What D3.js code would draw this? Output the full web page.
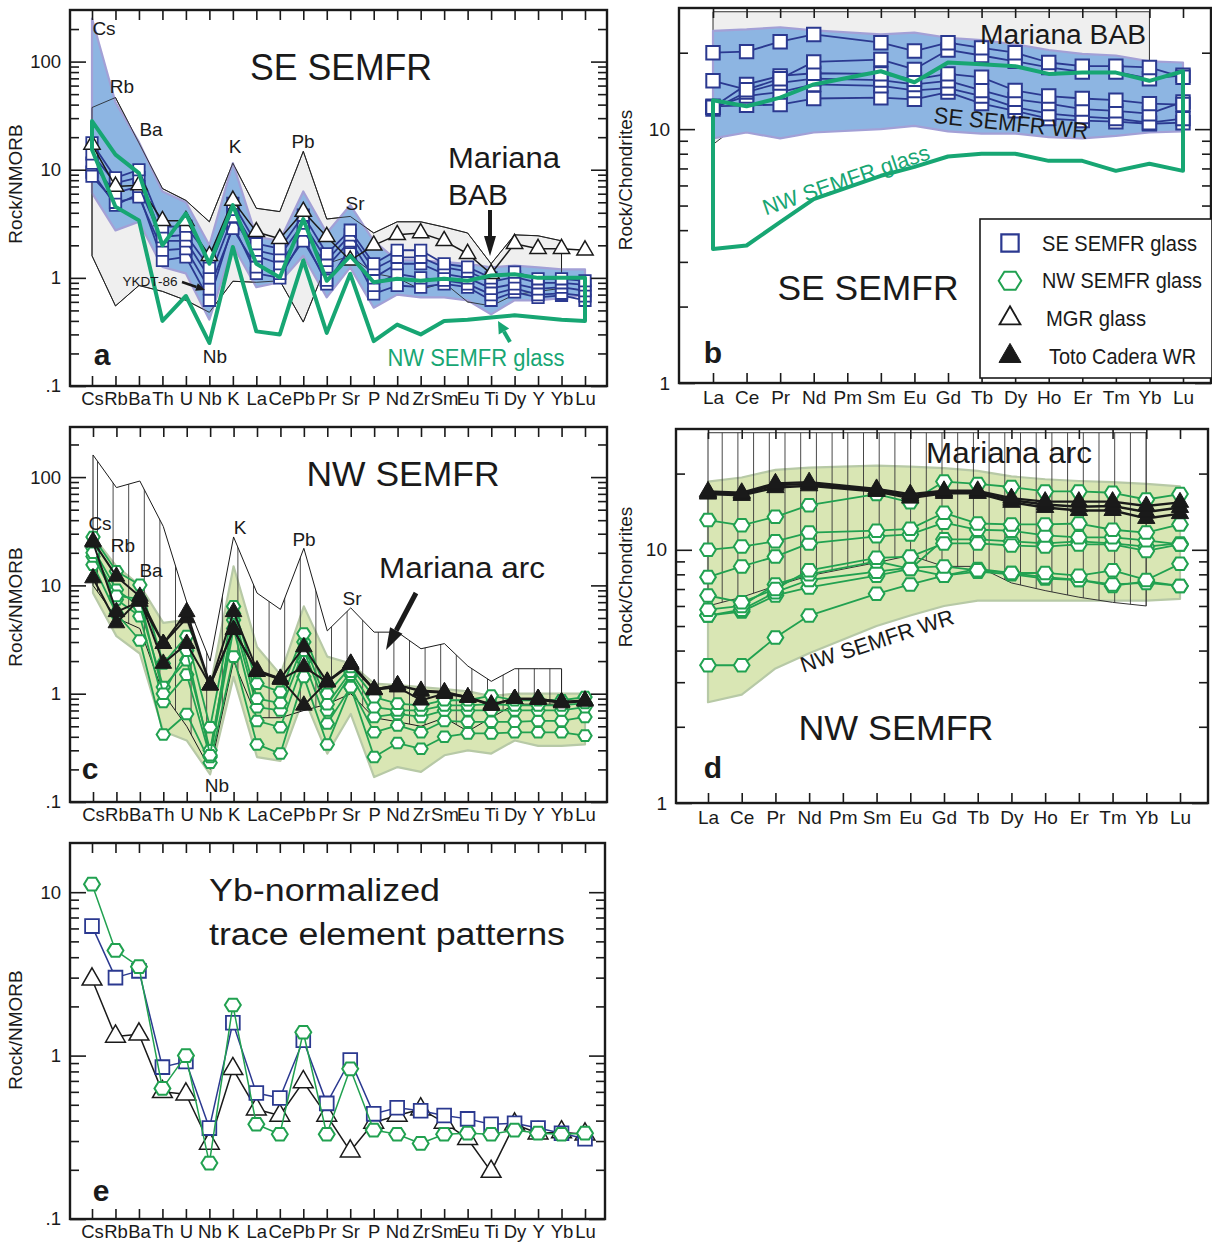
<!DOCTYPE html>
<html><head><meta charset="utf-8">
<script src="https://cdn.jsdelivr.net/npm/d3@7"></script>
<style>
body{margin:0;background:#fff}
svg{display:block}
text{font-family:"Liberation Sans",Arial,Helvetica,sans-serif;fill:#1a1a1a}
</style>
</head><body>
<svg id="chart" width="1212" height="1248"></svg>
<script>
// ---------------- categories & tick labels ----------------
const traceEls = ["Cs","Rb","Ba","Th","U","Nb","K","La","Ce","Pb","Pr","Sr","P","Nd","Zr","Sm","Eu","Ti","Dy","Y","Yb","Lu"];
const reeEls = ["La","Ce","Pr","Nd","Pm","Sm","Eu","Gd","Tb","Dy","Ho","Er","Tm","Yb","Lu"];
const nmorbMajor = [0.1, 1, 10, 100];
const nmorbMajorText = [".1", "1", "10", "100"];
const chonMajor = [1, 10];
const chonMajorText = ["1", "10"];
const yMajorE = [0.1, 1, 10];
const yMajorTextE = [".1", "1", "10"];

// ---------------- panel a : SE SEMFR (NMORB) ----------------
const aBabUpper = [37.6,46.5,17.7,6.7,5.2,3.3,11.5,4.4,4.1,14.8,3.5,3.7,2.6,3.3,3.3,2.95,2.6,1.35,2.5,2.45,2.2,null];
const aBabLower = [1.6,0.55,0.85,0.75,0.62,0.48,0.93,0.91,0.94,0.39,1.35,1.6,1.1,1.0,0.78,0.9,0.6,0.55,0.7,0.75,0.8,null];
const aWrUpper = [250,42,18,6.3,5.0,2.0,11.5,2.4,2.2,6.3,2.6,4.7,2.2,1.45,1.45,1.4,1.35,1.25,1.3,1.25,1.2,1.2];
const aWrLower = [6.1,2.75,3.3,1.26,1.1,0.41,2.0,0.82,0.91,1.6,0.66,1.25,0.53,0.7,0.66,0.66,0.62,0.46,0.62,0.62,0.65,0.7];
const aSe1 = [17.7,8.4,10,2.96,3.0,1.56,4.9,2.07,1.86,3.8,1.67,2.76,1.35,1.8,1.8,1.35,1.26,1.0,1.13,0.98,0.98,0.94];
const aSe2 = [14,7.5,8.5,2.4,2.5,1.25,4.3,1.8,1.6,3.2,1.45,2.5,1.2,1.55,1.55,1.25,1.15,0.92,1.02,0.9,0.9,0.86];
const aSe3 = [11.5,6.1,7,2.2,2.2,1.0,3.7,1.6,1.35,2.76,1.26,2.2,1.0,1.35,1.35,1.09,1.0,0.8,0.88,0.79,0.82,0.76];
const aSe4 = [8.7,5.0,5.6,1.8,1.86,0.79,2.86,1.26,1.1,2.2,0.95,1.67,0.85,1.09,1.0,0.95,0.88,0.7,0.8,0.7,0.72,0.68];
const aSe5 = [9.5,4.7,6,1.45,1.56,0.62,3.1,1.1,1.0,2.4,0.88,1.9,0.71,0.85,0.82,0.88,0.82,0.62,0.74,0.66,0.69,0.62];
const aMgr = [17.1,7.0,7.2,3.37,3.37,1.6,5.2,2.66,2.3,4.1,2.4,1.45,2.0,2.5,2.6,2.2,1.67,1.09,2.07,1.86,1.86,1.8];
const aNwUpper = [28.2,13.8,9.3,2.0,3.95,1.35,4.7,1.35,1.01,3.5,0.94,1.6,0.91,0.98,0.94,0.98,0.94,1.05,1.08,1.0,1.0,1.0];
const aNwLower = [15.3,4.55,3.4,0.4,0.68,0.25,1.93,0.32,0.3,1.45,0.31,1.09,0.26,0.37,0.3,0.4,0.41,0.43,0.45,0.43,0.41,0.4];

// ---------------- panel b : SE SEMFR (chondrite) ----------------
const bBabUpper = [29,29,29,29,null,29,29,29,29,29,29,29,29,29,null];
const bBabLower = [8.7,11.0,12.2,12.9,null,13.1,13.2,12.8,12.4,12.0,11.6,11.3,11.0,10.8,null];
const bWrUpper = [24.4,24.7,25.2,24.5,null,23.6,24.0,22.9,22.4,21.6,20.5,19.8,19.5,18.5,18.3];
const bWrLower = [9.2,9.7,9.2,9.7,null,10.0,10.3,9.8,9.6,9.6,9.3,9.2,9.4,9.7,9.8];
const bSe1 = [20.0,20.2,22.1,23.6,null,21.9,20.3,21.9,20.9,20.0,18.3,17.7,17.7,17.5,16.0];
const bSe2 = [15.5,14.3,15.8,18.4,null,18.8,17.2,20.5,19.5,18.5,17.5,16.8,16.8,15.8,16.3];
const bSe3 = [12.2,15.0,16.2,16.6,null,16.5,15.7,16.5,16.0,14.2,13.5,13.2,13.0,12.6,12.5];
const bSe4 = [12.0,14.0,15.2,15.8,null,15.6,15.0,15.5,14.2,13.1,12.6,12.0,11.8,11.5,12.8];
const bSe5 = [12.2,13.5,14.0,15.0,null,14.8,14.2,14.5,13.5,12.2,11.5,11.2,11.0,10.6,11.0];
const bSe6 = [12.3,12.4,12.5,13.2,null,13.3,13.1,14.0,12.6,11.8,11.0,10.8,10.7,10.5,10.6];
const bNwUpper = [13.0,12.3,13.3,15.0,null,16.9,15.3,18.3,18.0,17.7,16.5,16.7,16.7,15.5,16.9];
const bNwLower = [3.37,3.48,4.3,5.3,null,6.55,7.1,7.8,8.0,8.0,7.5,7.5,6.85,7.3,6.85];

// ---------------- panel c : NW SEMFR (NMORB) ----------------
const cArcUpper = [160,80,92,35,7,2,28,8.5,6,22,3.8,6.2,3.7,3.7,2.6,2.9,1.8,1.3,1.7,1.7,1.7,null];
const cArcLower = [10,5,4,1.0,0.5,0.2,2.0,0.6,0.6,0.7,0.8,1.0,0.6,0.55,0.5,0.6,0.45,0.6,0.8,0.8,0.8,null];
const cWrUpper = [28.5,15,10,4.5,4.8,1.15,15,2.7,1.5,6.4,2.2,1.9,1.24,1.2,1.15,1.1,1.05,0.95,1.0,1.0,1.0,1.0];
const cWrLower = [8.5,3.4,2.35,0.45,0.37,0.18,1.43,0.26,0.24,0.93,0.28,0.65,0.17,0.21,0.19,0.27,0.3,0.28,0.37,0.33,0.33,0.34];
const cNw1 = [28,13.5,10.1,1.9,3.4,0.49,6.4,1.24,1.04,3.6,1.0,1.77,0.93,0.81,0.78,0.87,0.87,0.96,0.87,0.87,0.87,0.93];
const cNw2 = [22,9.1,6.4,1.15,2.04,0.3,4.8,0.75,0.7,2.5,0.7,1.5,0.61,0.65,0.61,0.7,0.7,0.7,0.7,0.7,0.7,0.75];
const cNw3 = [18.5,7.4,5.2,0.84,1.5,0.26,4.0,0.56,0.49,2.0,0.53,1.15,0.44,0.51,0.44,0.56,0.55,0.55,0.55,0.56,0.56,0.61];
const cNw4 = [15.5,5.5,3.1,0.42,0.65,0.23,2.2,0.34,0.28,1.43,0.34,1.15,0.26,0.35,0.31,0.4,0.43,0.43,0.44,0.44,0.44,0.41];
const cNw5 = [20,8,7.5,1.0,2.5,0.27,5.5,0.9,0.82,3.0,0.8,1.6,0.75,0.7,0.7,0.78,0.78,0.8,0.78,0.78,0.78,0.82];
const cToto1 = [25.6,12.1,7.9,2.9,5.7,1.2,5.7,1.65,1.38,2.7,1.28,1.9,1.1,1.2,1.07,1.04,0.93,0.78,0.9,0.9,0.84,0.87];
const cToto2 = [25,5.7,7.1,2.9,5.0,1.2,3.9,1.6,1.35,1.77,1.28,1.85,1.08,1.15,0.87,1.0,0.92,0.78,0.9,0.88,0.82,0.85];
const cToto3 = [11.7,4.5,7.5,1.9,2.9,1.2,3.9,1.6,1.38,0.78,1.3,1.9,1.1,1.2,1.05,1.02,0.93,0.8,0.9,0.9,0.84,0.86];

// ---------------- panel d : NW SEMFR (chondrite) ----------------
const dArcUpper = [29,29,29,29,null,29,29,29,29,29,29,29,29,29,null];
const dArcLower = [6.0,6.5,7.2,7.9,null,8.9,9.5,8.6,8.6,7.4,6.9,6.5,6.2,6.0,null];
const dWrUpper = [18.6,19.3,20.7,21.1,null,21.5,21.3,21.0,20.5,19.5,19.0,18.7,18.5,18.2,17.8];
const dWrLower = [2.5,2.68,3.4,3.9,null,5.0,5.5,6.0,6.3,6.3,6.3,6.3,6.3,6.3,6.4];
const dNw1 = [13.1,12.5,13.5,15.0,null,16.6,15.4,18.6,18.2,17.7,17.0,17.0,16.8,15.8,16.6];
const dNw2 = [10.0,10.3,10.8,11.7,null,11.9,12.1,14.0,12.7,12.6,12.6,12.7,12.0,11.7,12.6];
const dNw3 = [7.8,8.6,9.4,10.6,null,11.3,11.5,12.8,12.0,11.9,11.4,11.2,11.2,10.9,10.5];
const dNw4 = [6.6,6.2,7.0,8.3,null,9.3,9.4,10.6,10.6,10.4,10.3,10.5,10.5,9.9,10.5];
const dNw5 = [5.8,6.0,7.3,8.0,null,9.0,8.4,11.0,11.0,10.8,10.6,10.8,10.6,10.3,10.6];
const dNw6 = [5.5,5.8,6.8,7.6,null,8.2,8.5,8.6,8.3,8.1,8.1,7.9,8.3,7.6,8.8];
const dNw7 = [5.5,5.7,6.6,7.1,null,7.9,8.4,7.9,8.4,8.1,7.8,7.6,7.3,7.4,7.2];
const dNw8 = [3.5,3.5,4.5,5.5,null,6.7,7.3,7.9,8.2,8.0,7.7,7.6,7.2,7.5,7.2];
const dToto1 = [17.0,16.8,18.3,18.5,null,17.4,16.6,17.1,17.1,16.0,15.5,15.5,15.5,14.9,15.4];
const dToto2 = [16.8,16.6,18.0,18.2,null,17.2,16.3,16.9,16.9,15.7,15.1,14.8,14.9,14.1,14.7];
const dToto3 = [16.6,16.4,17.6,17.9,null,17.0,16.0,16.7,16.7,15.4,14.7,14.3,14.3,13.3,13.9];

// ---------------- panel e : Yb-normalized ----------------
const eNw = [11.2,4.4,3.5,0.63,1.0,0.22,2.04,0.38,0.33,1.39,0.33,0.83,0.35,0.33,0.29,0.33,0.335,0.33,0.35,0.335,0.33,0.335];
const eSe = [6.2,3.0,3.3,0.85,0.92,0.36,1.59,0.59,0.55,1.24,0.51,0.94,0.44,0.48,0.46,0.43,0.41,0.38,0.385,0.36,0.335,0.31];
const eMgr = [2.93,1.31,1.35,0.60,0.58,0.29,0.83,0.47,0.43,0.69,0.43,0.26,0.39,0.43,0.47,0.39,0.31,0.195,0.38,0.335,0.34,0.33];

// ---------------- colours ----------------
const C = {
  blue:"#2b3990", blueField:"#8db5e2", blueEdge:"#a3a0d6",
  grey:"#efefef", ink:"#1a1a1a",
  greenThick:"#17a673", green:"#21a150", greenField:"#d9e6b4", greenEdge:"#b7c9a6"
};

const svg = d3.select("#chart");
const defs = svg.append("defs");
let clipN = 0;

// hexagon symbol (flat top, points left/right)
const symbolHex = { draw(ctx, size){ const r=Math.sqrt(2*size/(3*Math.sqrt(3)));
  for(let k=0;k<6;k++){const a=k*Math.PI/3; const px=r*Math.cos(a), py=r*Math.sin(a)*0.92; k?ctx.lineTo(px,py):ctx.moveTo(px,py);} ctx.closePath(); } };

function makePanel(cfg){
  const x = d3.scalePoint().domain(cfg.cats).range([cfg.xFirst, cfg.xLast]);
  const y = d3.scaleLog().domain(cfg.yDomain).range([cfg.bottom, cfg.top]);
  const id = "clip" + (clipN++);
  defs.append("clipPath").attr("id", id).append("rect")
    .attr("x", cfg.left).attr("y", cfg.top).attr("width", cfg.right-cfg.left).attr("height", cfg.bottom-cfg.top);
  const g = svg.append("g");
  const plot = g.append("g").attr("clip-path", `url(#${id})`);
  return {x, y, g, plot, cfg};
}
function pts(p, vals){ return p.cfg.cats.map((c,i)=>[c, vals[i]]).filter(d=>d[1]!=null); }
const lineOf = p => d3.line().x(d=>p.x(d[0])).y(d=>p.y(d[1]));

function field(p, upper, lower, fill, stroke, sw){
  const poly = pts(p, upper).concat(pts(p, lower).reverse());
  return p.plot.append("path").attr("d", lineOf(p)(poly)+"Z")
    .attr("fill", fill).attr("stroke", stroke).attr("stroke-width", sw).attr("stroke-linejoin","round");
}
function series(p, vals, o){
  const ps = pts(p, vals);
  p.plot.append("path").attr("d", lineOf(p)(ps)).attr("fill","none")
    .attr("stroke", o.line).attr("stroke-width", o.lw).attr("stroke-linejoin","round");
  if (o.symbol) {
    p.plot.append("g").selectAll("path").data(ps).join("path")
      .attr("transform", d=>`translate(${p.x(d[0])},${p.y(d[1])})`)
      .attr("d", d3.symbol().type(o.symbol).size(o.size))
      .attr("fill", o.fill).attr("stroke", o.stroke).attr("stroke-width", o.sw);
  }
}
function finish(p, yMajor, yMajorText){
  const cfg = p.cfg, g = p.g;
  const st = sel => { sel.select(".domain").remove();
    sel.selectAll("line").attr("stroke", C.ink).attr("stroke-width", 1.6);
    sel.selectAll("text").style("font-size", cfg.tickFont+"px").attr("fill", C.ink); };
  g.append("g").attr("transform",`translate(0,${cfg.bottom})`)
    .call(d3.axisBottom(p.x).tickSizeInner(-10).tickSizeOuter(0).tickPadding(cfg.xPad)).call(st);
  g.append("g").attr("transform",`translate(0,${cfg.top})`)
    .call(d3.axisTop(p.x).tickSizeInner(-10).tickSizeOuter(0).tickFormat("")).call(st);
  const minor = p.y.ticks().filter(v => Math.abs(Math.log10(v)-Math.round(Math.log10(v)))>1e-6 && v>cfg.yDomain[0] && v<cfg.yDomain[1]);
  g.append("g").attr("transform",`translate(${cfg.left},0)`)
    .call(d3.axisLeft(p.y).tickValues(yMajor).tickFormat((d,i)=>yMajorText[i]).tickSizeInner(-16).tickSizeOuter(0).tickPadding(9)).call(st);
  g.append("g").attr("transform",`translate(${cfg.left},0)`)
    .call(d3.axisLeft(p.y).tickValues(minor).tickFormat("").tickSizeInner(-9).tickSizeOuter(0)).call(st);
  g.append("g").attr("transform",`translate(${cfg.right},0)`)
    .call(d3.axisRight(p.y).tickValues(yMajor).tickFormat("").tickSizeInner(-16).tickSizeOuter(0)).call(st);
  g.append("g").attr("transform",`translate(${cfg.right},0)`)
    .call(d3.axisRight(p.y).tickValues(minor).tickFormat("").tickSizeInner(-9).tickSizeOuter(0)).call(st);
  g.append("rect").attr("x",cfg.left).attr("y",cfg.top).attr("width",cfg.right-cfg.left).attr("height",cfg.bottom-cfg.top)
    .attr("fill","none").attr("stroke",C.ink).attr("stroke-width",2.4);
  g.append("text").attr("transform",`translate(${cfg.yTitleX},${cfg.yTitleY}) rotate(-90)`)
    .attr("text-anchor","middle").style("font-size","19px").text(cfg.yTitle);
}
function label(txt, x, y, size, o={}){
  const t = svg.append("text").attr("x",x).attr("y",y).text(txt).style("font-size", size+"px")
    .attr("text-anchor", o.anchor||"middle").attr("dominant-baseline","central");
  if (o.fill) t.attr("fill", o.fill).style("fill", o.fill);
  if (o.bold) t.style("font-weight","bold");
  if (o.len) t.attr("textLength", o.len).attr("lengthAdjust","spacingAndGlyphs");
  if (o.rot) t.attr("transform",`rotate(${o.rot},${x},${y})`);
  return t;
}
function arrow(x1,y1,x2,y2,w,hl,hw,color){
  const dx=x2-x1, dy=y2-y1, L=Math.hypot(dx,dy), ux=dx/L, uy=dy/L, nx=-uy, ny=ux;
  const bx=x2-ux*hl, by=y2-uy*hl;
  svg.append("line").attr("x1",x1).attr("y1",y1).attr("x2",bx).attr("y2",by).attr("stroke",color).attr("stroke-width",w);
  svg.append("path").attr("d",`M${x2},${y2}L${bx+nx*hw},${by+ny*hw}L${bx-nx*hw},${by-ny*hw}Z`).attr("fill",color);
}
function hatch(id, x0, step, color){
  const pt = defs.append("pattern").attr("id",id).attr("patternUnits","userSpaceOnUse")
    .attr("x",x0).attr("y",0).attr("width",step).attr("height",20);
  pt.append("line").attr("x1",0.5).attr("x2",0.5).attr("y1",0).attr("y2",20).attr("stroke",color).attr("stroke-width",0.9);
}
hatch("hatchC", 97, 15.6, "#333");
hatch("hatchD", 706, 15.7, "#333");

const sq = d3.symbolSquare, tri = d3.symbolTriangle;

// ======== panel a ========
const pa = makePanel({cats:traceEls,left:70,right:607,top:10,bottom:386,xFirst:92,xLast:585,yDomain:[0.1,300],
  tickFont:18.5,xPad:6,yTitle:"Rock/NMORB",yTitleX:22,yTitleY:184});
field(pa, aBabUpper, aBabLower, C.grey, C.ink, 0.9);
field(pa, aWrUpper, aWrLower, C.blueField, C.blueEdge, 2.2);
field(pa, aBabUpper, aBabLower, "none", C.ink, 0.8);
[aSe5,aSe4,aSe3,aSe2,aSe1].forEach(s=>series(pa,s,{line:C.blue,lw:1.8,symbol:sq,size:130,fill:"#fff",stroke:C.blue,sw:1.8}));
series(pa, aMgr, {line:C.ink,lw:1.5,symbol:tri,size:115,fill:"#fff",stroke:C.ink,sw:1.5});
field(pa, aNwUpper, aNwLower, "none", C.greenThick, 4);
finish(pa, nmorbMajor, nmorbMajorText);

// ======== panel b ========
const pb = makePanel({cats:reeEls,left:679,right:1211,top:8,bottom:383,xFirst:713,xLast:1183,yDomain:[1,30],
  tickFont:19,xPad:8,yTitle:"Rock/Chondrites",yTitleX:632,yTitleY:180});
field(pb, bBabUpper, bBabLower, C.grey, C.ink, 0.9);
field(pb, bWrUpper, bWrLower, C.blueField, C.blueEdge, 2.2);
[bSe6,bSe5,bSe4,bSe3,bSe2,bSe1].forEach(s=>series(pb,s,{line:C.blue,lw:1.8,symbol:sq,size:180,fill:"#fff",stroke:C.blue,sw:2}));
field(pb, bNwUpper, bNwLower, "none", C.greenThick, 4);
finish(pb, chonMajor, chonMajorText);

// ======== panel c ========
const pc = makePanel({cats:traceEls,left:70,right:607,top:427,bottom:802,xFirst:93,xLast:585,yDomain:[0.1,290],
  tickFont:18.5,xPad:6,yTitle:"Rock/NMORB",yTitleX:22,yTitleY:607});
field(pc, cWrUpper, cWrLower, C.greenField, C.greenEdge, 2.2);
field(pc, cArcUpper, cArcLower, "url(#hatchC)", C.ink, 1);
[cNw4,cNw3,cNw2,cNw5,cNw1].forEach(s=>series(pc,s,{line:C.green,lw:1.8,symbol:symbolHex,size:115,fill:"#fff",stroke:C.green,sw:2}));
[cToto3,cToto2,cToto1].forEach(s=>series(pc,s,{line:C.ink,lw:2,symbol:tri,size:120,fill:C.ink,stroke:C.ink,sw:1}));
finish(pc, nmorbMajor, nmorbMajorText);

// ======== panel d ========
const pd = makePanel({cats:reeEls,left:676,right:1208,top:429,bottom:803,xFirst:708,xLast:1180,yDomain:[1,30],
  tickFont:19,xPad:8,yTitle:"Rock/Chondrites",yTitleX:632,yTitleY:577});
field(pd, dWrUpper, dWrLower, C.greenField, C.greenEdge, 2.2);
field(pd, dArcUpper, dArcLower, "url(#hatchD)", "#333", 1);
[dNw8,dNw7,dNw6,dNw5,dNw4,dNw3,dNw2,dNw1].forEach(s=>series(pd,s,{line:C.green,lw:1.8,symbol:symbolHex,size:160,fill:"#fff",stroke:C.green,sw:2}));
[dToto3,dToto2,dToto1].forEach(s=>series(pd,s,{line:C.ink,lw:2.4,symbol:tri,size:130,fill:C.ink,stroke:C.ink,sw:1}));
finish(pd, chonMajor, chonMajorText);

// ======== panel e ========
const pe = makePanel({cats:traceEls,left:70,right:605,top:843,bottom:1219,xFirst:92,xLast:585,yDomain:[0.1,20],
  tickFont:18.5,xPad:6,yTitle:"Rock/NMORB",yTitleX:22,yTitleY:1030});
series(pe, eMgr, {line:C.ink,lw:1.5,symbol:tri,size:170,fill:"#fff",stroke:C.ink,sw:1.5});
series(pe, eSe, {line:C.blue,lw:1.5,symbol:sq,size:190,fill:"#fff",stroke:C.blue,sw:1.8});
series(pe, eNw, {line:C.green,lw:1.5,symbol:symbolHex,size:165,fill:"#fff",stroke:C.green,sw:2});
finish(pe, yMajorE, yMajorTextE);

// ======== annotations ========
// panel a
label("SE SEMFR", 341, 67, 36, {len:182});
label("Mariana", 448, 158, 29, {anchor:"start", len:112});
label("BAB", 448, 195, 29, {anchor:"start", len:60});
arrow(490, 210, 490, 256, 4, 20, 6, C.ink);
label("NW SEMFR glass", 476, 358, 23, {fill:C.greenThick, len:177});
arrow(510, 342, 498, 321, 4, 12, 6, C.greenThick);
[["Cs",104,28],["Rb",122,86],["Ba",151,129],["K",235,146],["Pb",303,141],["Sr",355,203],["Nb",215,356]]
  .forEach(d=>label(d[0], d[1], d[2], 19));
label("YKDT-86", 150, 282, 12.5, {len:55});
arrow(182, 282, 205, 290, 2.5, 9, 4, C.ink);
label("a", 102, 354, 30, {bold:true});

// panel b
label("Mariana BAB", 1063, 35, 27, {len:166});
label("SE SEMFR WR", 1011, 123, 23, {len:155, rot:6});
label("NW SEMFR glass", 846, 180, 22, {fill:C.greenThick, len:175, rot:-19});
label("SE SEMFR", 868, 287, 35, {len:181});
label("b", 713, 352, 30, {bold:true});
// legend
svg.append("rect").attr("x",980).attr("y",219).attr("width",232).attr("height",159).attr("fill","#fff").attr("stroke",C.ink).attr("stroke-width",1.6);
const legendItems = [
  {label:"SE SEMFR glass", type:sq, size:300, fill:"#fff", stroke:C.blue, sw:2.2, len:155, tx:1042},
  {label:"NW SEMFR glass", type:symbolHex, size:330, fill:"#fff", stroke:C.green, sw:2, len:160, tx:1042},
  {label:"MGR glass", type:tri, size:190, fill:"#fff", stroke:C.ink, sw:1.8, len:100, tx:1046},
  {label:"Toto Cadera WR", type:tri, size:210, fill:C.ink, stroke:C.ink, sw:1, len:147, tx:1049}
];
legendItems.forEach((it,i)=>{
  const yy = 243 + i*37.7;
  svg.append("path").attr("transform",`translate(1010,${yy})`).attr("d", d3.symbol().type(it.type).size(it.size))
    .attr("fill",it.fill).attr("stroke",it.stroke).attr("stroke-width",it.sw);
  label(it.label, it.tx, yy, 22, {anchor:"start", len:it.len});
});

// panel c
label("NW SEMFR", 403, 473, 35, {len:193});
label("Mariana arc", 462, 568, 29, {len:166});
arrow(416, 593, 386, 650, 5, 22, 7, C.ink);
[["Cs",100,523],["Rb",123,545],["Ba",151,570],["K",240,527],["Pb",304,539],["Sr",352,598],["Nb",217,785]]
  .forEach(d=>label(d[0], d[1], d[2], 19));
label("c", 90, 768, 30, {bold:true});

// panel d
label("Mariana arc", 1009, 453, 29, {len:166});
label("NW SEMFR WR", 877, 641, 22, {len:160, rot:-18});
label("NW SEMFR", 896, 727, 35, {len:195});
label("d", 713, 767, 30, {bold:true});

// panel e
label("Yb-normalized", 209, 890, 31, {anchor:"start", len:231});
label("trace element patterns", 209, 934, 31, {anchor:"start", len:356});
label("e", 101, 1190, 30, {bold:true});
</script>
</body></html>
